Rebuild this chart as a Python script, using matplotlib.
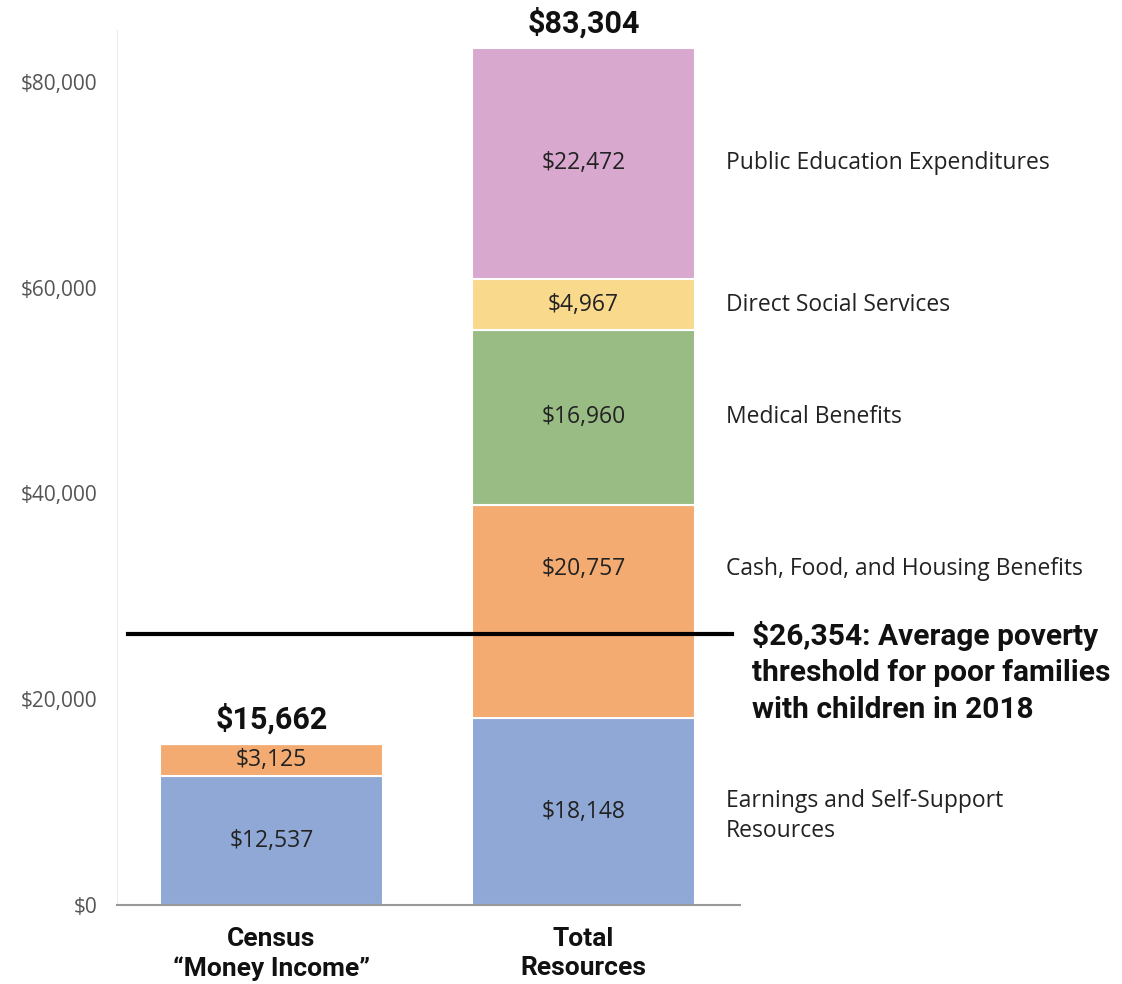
import matplotlib.pyplot as plt
import numpy as np

# data
bars = ["Census\n\u201cMoney Income\u201d", "Total\nResources"]
categories = ["Earnings and Self-Support\nResources", "Cash, Food, and Housing Benefits",
              "Medical Benefits", "Direct Social Services", "Public Education Expenditures"]
census_vals = [12537, 3125, 0, 0, 0]
total_vals = [18148, 20757, 16960, 4967, 22472]
bar_totals = [15662, 83304]
poverty = 26354
yticks = [0, 20000, 40000, 60000, 80000]

colors = ["#8FA8D6", "#F3AB72", "#99BC85", "#F9D98C", "#D8A8CF"]

plt.rcParams['font.family'] = ['Open Sans', 'DejaVu Sans']
bold_font = ['Roboto', 'DejaVu Sans']

fig = plt.figure(figsize=(11.22, 9.84), dpi=100)
ax = fig.add_axes([117 / 1122, 79 / 984, 623 / 1122, 874.6 / 984])

x = np.arange(len(bars))
width = 0.715
bottoms = np.zeros(2)
for i in range(len(categories)):
    vals = np.array([census_vals[i], total_vals[i]])
    ax.bar(x, vals, width, bottom=bottoms, color=colors[i], edgecolor="white", linewidth=1.5)
    for j in range(2):
        if vals[j] > 0:
            ymid = bottoms[j] + vals[j] / 2
            # the big orange label sits above the poverty line
            if j == 1 and i == 1:
                ymid = 32700
            ax.text(x[j], ymid, "${:,}".format(vals[j]), ha="center", va="center",
                    fontsize=16.5, color="#222222")
    ymid = bottoms[1] + vals[1] / 2
    if i == 1:
        ymid = 32700
    if i == 0:
        ymid = bottoms[1] + vals[1] / 2 - 400
    ax.text(1 + width / 2 + 0.1, ymid, categories[i], ha="left", va="center",
            fontsize=16.5, color="#222222", clip_on=False, linespacing=1.35)
    bottoms += vals

for j in range(2):
    ax.text(x[j], bar_totals[j] + 900, "${:,}".format(bar_totals[j]), ha="center", va="bottom",
            fontsize=22, fontweight="bold", family=bold_font, color="#111111")

ax.plot([-0.46, 1.475], [poverty, poverty], color="black", linewidth=3, clip_on=False)
ax.text(1.54, 27600, "${:,}: Average poverty\nthreshold for poor families\nwith children in 2018".format(poverty),
        ha="left", va="top", fontsize=21.5, fontweight="bold", family=bold_font, color="#111111",
        linespacing=1.38, clip_on=False)

ax.set_xlim(-0.495, 1.5016)
ax.set_ylim(0, 85000)
ax.set_yticks(yticks)
ax.set_yticklabels(["${:,}".format(v) for v in yticks], fontsize=15, color="#555555")
ax.set_xticks(x)
ax.set_xticklabels(bars, fontsize=19, fontweight="bold", family=bold_font, color="#111111",
                   linespacing=1.25)
ax.tick_params(axis="x", length=0, pad=16)
ax.tick_params(axis="y", length=0, pad=14)

for s in ["top", "right"]:
    ax.spines[s].set_visible(False)
ax.spines["left"].set_color("#eeeeee")
ax.spines["bottom"].set_color("#999999")
ax.spines["bottom"].set_linewidth(1.5)

fig.savefig("out.png", dpi=100)
